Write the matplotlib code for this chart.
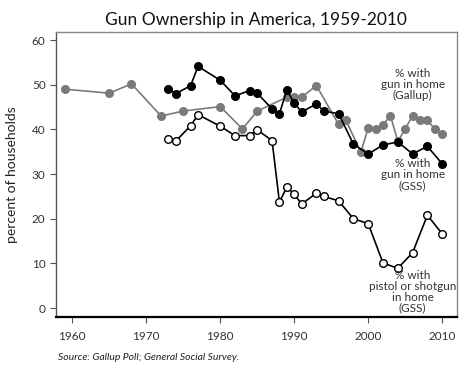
import matplotlib.pyplot as plt

# Gallup: % with gun in home
gallup_years = [1959, 1965, 1968, 1972, 1975, 1980, 1983, 1985, 1989, 1990, 1991,
                1993, 1996, 1997, 1999, 2000, 2001, 2002, 2003, 2004, 2005, 2006,
                2007, 2008, 2009, 2010]
gallup_vals = [49.0, 48.1, 50.2, 43.0, 44.1, 45.1, 40.1, 44.1, 47.2, 47.3, 47.2,
               49.8, 41.1, 42.0, 34.9, 40.3, 40.1, 41.0, 43.1, 37.3, 40.1, 43.1,
               42.0, 42.0, 40.1, 39.0]

# GSS: % with gun in home
gss_years = [1973, 1974, 1976, 1977, 1980, 1982, 1984, 1985, 1987, 1988, 1989,
             1990, 1991, 1993, 1994, 1996, 1998, 2000, 2002, 2004, 2006, 2008, 2010]
gss_gun = [49.1, 48.0, 49.8, 54.1, 51.0, 47.5, 48.7, 48.1, 44.6, 43.5, 48.8,
           45.9, 43.9, 45.7, 44.1, 43.5, 36.7, 34.5, 36.5, 37.2, 34.5, 36.2, 32.3]

# GSS: % with pistol or shotgun in home
gss_pistol = [37.9, 37.4, 40.8, 43.3, 40.7, 38.6, 38.6, 39.9, 37.5, 23.7, 27.1,
              25.5, 23.3, 25.7, 25.0, 24.0, 20.0, 18.9, 10.1, 8.9, 12.4, 20.8, 16.6]

xticks = [1960, 1970, 1980, 1990, 2000, 2010]
yticks = [0, 10, 20, 30, 40, 50, 60]

plt.rcParams['font.family'] = ['Lato', 'DejaVu Sans']

fig = plt.figure(figsize=(4.69, 3.69), dpi=100)
ax = fig.add_axes([0.1194, 0.1409, 0.855, 0.7724])

grey = '#7a7a7a'
ax.plot(gallup_years, gallup_vals, color=grey, lw=1.2, marker='o', ms=5.5,
        mfc=grey, mec=grey, zorder=2)
ax.plot(gss_years, gss_gun, color='black', lw=1.2, marker='o', ms=5.5,
        mfc='black', mec='black', zorder=3)
ax.plot(gss_years, gss_pistol, color='black', lw=1.2, marker='o', ms=5.5,
        mfc='white', mec='black', mew=1.0, zorder=3)

txt = dict(ha='center', va='center', fontsize=8.5, color='#333333', linespacing=1.0)
ax.text(2006, 50.0, "% with\ngun in home\n(Gallup)", **txt)
ax.text(2006, 29.8, "% with\ngun in home\n(GSS)", **txt)
ax.text(2006, 3.7, "% with\npistol or shotgun\nin home\n(GSS)", **txt)

ax.set_xlim(1957.8, 2012.0)
ax.set_ylim(-2, 61.8)
ax.set_xticks(xticks)
ax.set_yticks(yticks)
ax.tick_params(direction='out', length=4, width=0.8, labelsize=8.5,
               labelcolor='#333333', color='#555555')
ax.tick_params(axis='x', pad=6)

for s in ['top', 'right']:
    ax.spines[s].set_color('#888888')
    ax.spines[s].set_linewidth(1.0)
ax.spines['left'].set_color('#555555')
ax.spines['left'].set_linewidth(1.0)
ax.spines['bottom'].set_color('black')
ax.spines['bottom'].set_linewidth(1.6)

ax.set_ylabel("percent of households", fontsize=10, color='#222222', labelpad=10)
fig.text(0.545, 0.945, "Gun Ownership in America, 1959-2010", ha='center',
         va='center', fontsize=12.5, color='#111111')
fig.text(0.123, 0.032, "Source: Gallup Poll; General Social Survey.", ha='left',
         va='center', fontsize=7.5, style='italic', color='#222222')

plt.savefig("out.png", dpi=100)
